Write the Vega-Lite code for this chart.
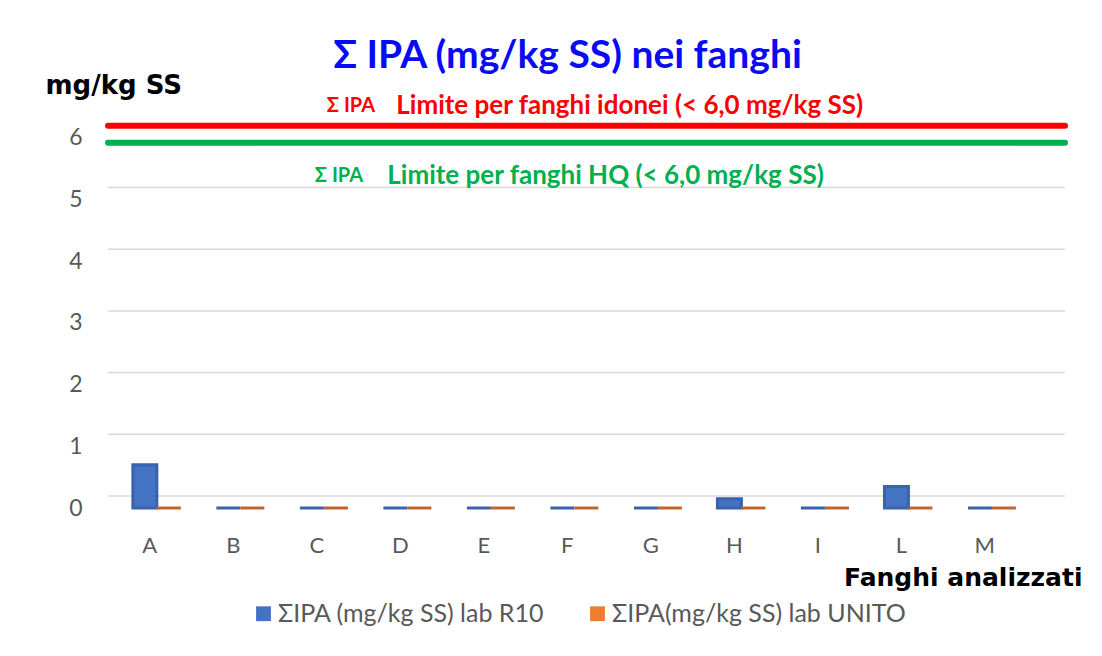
{
  "$schema": "https://vega.github.io/schema/vega-lite/v6.json",
  "autosize": "none",
  "width": 957,
  "height": 401,
  "padding": {"left": 108, "top": 107, "right": 37, "bottom": 148},
  "background": "white",
  "config": {
    "view": {"stroke": null},
    "font": "Lato",
    "axis": {"labelFont": "Lato", "titleFont": "DejaVu Sans"},
    "legend": {"labelFont": "Lato"}
  },
  "title": {
    "text": "Σ IPA (mg/kg SS) nei fanghi",
    "font": "Lato",
    "fontSize": 39,
    "fontWeight": "bold",
    "color": "#0A0AF5",
    "anchor": "middle",
    "dx": -19,
    "offset": -4
  },
  "datasets": {
    "bars": [
      {"cat": "A", "series": "ΣIPA (mg/kg SS) lab R10", "value": 0.7},
      {"cat": "A", "series": "ΣIPA(mg/kg SS) lab UNITO", "value": 0},
      {"cat": "B", "series": "ΣIPA (mg/kg SS) lab R10", "value": 0},
      {"cat": "B", "series": "ΣIPA(mg/kg SS) lab UNITO", "value": 0},
      {"cat": "C", "series": "ΣIPA (mg/kg SS) lab R10", "value": 0},
      {"cat": "C", "series": "ΣIPA(mg/kg SS) lab UNITO", "value": 0},
      {"cat": "D", "series": "ΣIPA (mg/kg SS) lab R10", "value": 0},
      {"cat": "D", "series": "ΣIPA(mg/kg SS) lab UNITO", "value": 0},
      {"cat": "E", "series": "ΣIPA (mg/kg SS) lab R10", "value": 0},
      {"cat": "E", "series": "ΣIPA(mg/kg SS) lab UNITO", "value": 0},
      {"cat": "F", "series": "ΣIPA (mg/kg SS) lab R10", "value": 0},
      {"cat": "F", "series": "ΣIPA(mg/kg SS) lab UNITO", "value": 0},
      {"cat": "G", "series": "ΣIPA (mg/kg SS) lab R10", "value": 0},
      {"cat": "G", "series": "ΣIPA(mg/kg SS) lab UNITO", "value": 0},
      {"cat": "H", "series": "ΣIPA (mg/kg SS) lab R10", "value": 0.15},
      {"cat": "H", "series": "ΣIPA(mg/kg SS) lab UNITO", "value": 0},
      {"cat": "I", "series": "ΣIPA (mg/kg SS) lab R10", "value": 0},
      {"cat": "I", "series": "ΣIPA(mg/kg SS) lab UNITO", "value": 0},
      {"cat": "L", "series": "ΣIPA (mg/kg SS) lab R10", "value": 0.35},
      {"cat": "L", "series": "ΣIPA(mg/kg SS) lab UNITO", "value": 0},
      {"cat": "M", "series": "ΣIPA (mg/kg SS) lab R10", "value": 0},
      {"cat": "M", "series": "ΣIPA(mg/kg SS) lab UNITO", "value": 0}
    ],
    "grid": [{"g": 0}, {"g": 1}, {"g": 2}, {"g": 3}, {"g": 4}, {"g": 5}, {"g": 6}],
    "limits": [{"limit": 6.0}]
  },
  "layer": [
    {
      "data": {"name": "grid"},
      "mark": {"type": "rule", "color": "#d9d9d9", "strokeWidth": 1.5, "yOffset": -12},
      "encoding": {
        "y": {"field": "g", "type": "quantitative", "scale": {"domain": [0, 6.5], "nice": false}}
      }
    },
    {
      "data": {"name": "bars"},
      "mark": {"type": "bar", "strokeWidth": 3},
      "encoding": {
        "x": {
          "field": "cat",
          "type": "nominal",
          "sort": ["A", "B", "C", "D", "E", "F", "G", "H", "I", "L", "M"],
          "scale": {"paddingInner": 0, "paddingOuter": 0.23, "align": 0},
          "axis": {
            "title": "Fanghi analizzati",
            "titleFontSize": 25,
            "titleFontWeight": "bold",
            "titleColor": "#000000",
            "titleAnchor": "end",
            "titleAlign": "right",
            "titleX": 974,
            "titleY": 69,
            "titleBaseline": "middle",
            "labelAngle": 0,
            "labelFontSize": 22,
            "labelColor": "#595959",
            "labelPadding": 27,
            "domain": false,
            "ticks": false,
            "grid": false
          }
        },
        "xOffset": {
          "field": "series",
          "type": "nominal",
          "scale": {"paddingInner": 0, "paddingOuter": 0.74, "align": 0.7}
        },
        "y": {
          "field": "value",
          "type": "quantitative",
          "scale": {"domain": [0, 6.5], "nice": false},
          "axis": {
            "values": [0, 1, 2, 3, 4, 5, 6],
            "format": "d",
            "title": "mg/kg SS",
            "titleAngle": 0,
            "titleFontSize": 26,
            "titleFontWeight": "bold",
            "titleColor": "#000000",
            "titleAlign": "left",
            "titleBaseline": "middle",
            "titleX": -63,
            "titleY": -22,
            "labelFontSize": 23,
            "labelFontWeight": "normal",
            "labelColor": "#595959",
            "labelPadding": 26,
            "domain": false,
            "ticks": false,
            "grid": false
          }
        },
        "color": {
          "field": "series",
          "type": "nominal",
          "scale": {
            "domain": ["ΣIPA (mg/kg SS) lab R10", "ΣIPA(mg/kg SS) lab UNITO"],
            "range": ["#4472C4", "#ED7D31"]
          },
          "legend": {
            "title": null,
            "orient": "none",
            "legendX": 143,
            "legendY": 494,
            "direction": "horizontal",
            "columns": 2,
            "columnPadding": 40,
            "symbolType": "square",
            "symbolSize": 220,
            "symbolStrokeWidth": 0,
            "labelOffset": 2,
            "labelFontSize": 25,
            "labelColor": "#595959",
            "labelLimit": 400
          }
        },
        "stroke": {
          "field": "series",
          "type": "nominal",
          "scale": {
            "domain": ["ΣIPA (mg/kg SS) lab R10", "ΣIPA(mg/kg SS) lab UNITO"],
            "range": ["#3A62AD", "#C5642A"]
          },
          "legend": null
        }
      }
    },
    {
      "data": {"name": "limits"},
      "mark": {"type": "rule", "color": "#FF0000", "strokeWidth": 6, "strokeCap": "round", "yOffset": -12},
      "encoding": {"y": {"field": "limit", "type": "quantitative"}}
    },
    {
      "data": {"name": "limits"},
      "mark": {"type": "rule", "color": "#00B050", "strokeWidth": 6, "strokeCap": "round", "yOffset": 5},
      "encoding": {"y": {"field": "limit", "type": "quantitative"}}
    },
    {
      "data": {"name": "limits"},
      "mark": {"type": "text", "text": "Σ IPA", "color": "#FF0000", "fontSize": 20, "fontWeight": "bold", "align": "left", "baseline": "middle", "dx": 10, "dy": -32},
      "encoding": {"x": {"datum": "C"}, "y": {"field": "limit", "type": "quantitative"}}
    },
    {
      "data": {"name": "limits"},
      "mark": {"type": "text", "text": "Limite per fanghi idonei (< 6,0 mg/kg SS)", "color": "#FF0000", "fontSize": 26, "fontWeight": "bold", "align": "left", "baseline": "middle", "dx": -4, "dy": -32},
      "encoding": {"x": {"datum": "D"}, "y": {"field": "limit", "type": "quantitative"}}
    },
    {
      "data": {"name": "limits"},
      "mark": {"type": "text", "text": "Σ IPA", "color": "#00B050", "fontSize": 20, "fontWeight": "bold", "align": "left", "baseline": "middle", "dx": -2, "dy": 38},
      "encoding": {"x": {"datum": "C"}, "y": {"field": "limit", "type": "quantitative"}}
    },
    {
      "data": {"name": "limits"},
      "mark": {"type": "text", "text": "Limite per fanghi HQ (< 6,0 mg/kg SS)", "color": "#00B050", "fontSize": 26, "fontWeight": "bold", "align": "left", "baseline": "middle", "dx": -13, "dy": 38},
      "encoding": {"x": {"datum": "D"}, "y": {"field": "limit", "type": "quantitative"}}
    }
  ]
}
